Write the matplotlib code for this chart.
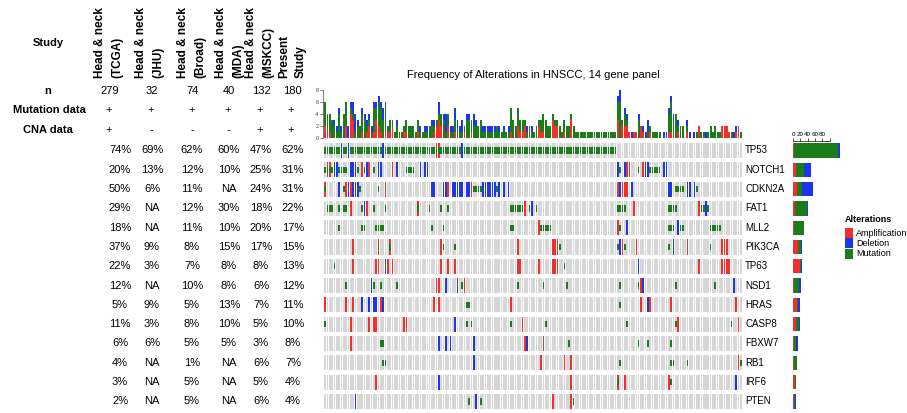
import matplotlib
matplotlib.use("Agg")
import numpy as np
import matplotlib.pyplot as plt
from matplotlib.patches import Rectangle

plt.rcParams['font.family'] = ['Liberation Sans', 'DejaVu Sans']

genes = ["TP53", "NOTCH1", "CDKN2A", "FAT1", "MLL2", "PIK3CA", "TP63",
         "NSD1", "HRAS", "CASP8", "FBXW7", "RB1", "IRF6", "PTEN"]
n_samples = 180

study_names = ["Head & neck\n(TCGA)", "Head & neck\n(JHU)", "Head & neck\n(Broad)",
               "Head & neck\n(MDA)", "Head & neck\n(MSKCC)", "Present\nStudy"]
study_n = ["279", "32", "74", "40", "132", "180"]
mutation_data = ["+", "+", "+", "+", "+", "+"]
cna_data = ["+", "-", "-", "-", "+", "+"]

freq_tcga = ["74%", "20%", "50%", "29%", "18%", "37%", "22%", "12%", "5%", "11%", "6%", "4%", "3%", "2%"]
freq_jhu = ["69%", "13%", "6%", "NA", "NA", "9%", "3%", "NA", "9%", "3%", "6%", "NA", "NA", "NA"]
freq_broad = ["62%", "12%", "11%", "12%", "11%", "8%", "7%", "10%", "5%", "8%", "5%", "1%", "5%", "5%"]
freq_mda = ["60%", "10%", "NA", "30%", "10%", "15%", "8%", "8%", "13%", "10%", "5%", "NA", "NA", "NA"]
freq_mskcc = ["47%", "25%", "24%", "18%", "20%", "17%", "8%", "6%", "7%", "5%", "3%", "6%", "5%", "6%"]
freq_present = ["62%", "31%", "31%", "22%", "17%", "15%", "13%", "12%", "11%", "10%", "8%", "7%", "4%", "4%"]

# altered samples per gene, (a, b) = run of samples a..b
amp_samples = {
    "TP53": [48, 49],
    "NOTCH1": [1, 2, 16, 19, 29, 130, 131, 137],
    "CDKN2A": [0, 9, 11, 26, 53, 63, 126, 128, 129, 130],
    "FAT1": [11, 18, 40, 86, 133, 161],
    "MLL2": [92, 126],
    "PIK3CA": [12, 23, 28, 50, 83, 98, 99, 100, 128, 134, 156, 171, 172, 173],
    "TP63": [12, 22, 23, 27, 29, 50, 53, 56, 83, 84, 92, 98, 99, 100, 161, 171, 172, 173, 174],
    "NSD1": [48, 49, 60, 136],
    "HRAS": [0, 9, 12, 24, 47, 49, 80, 136, 140, 149, 177],
    "CASP8": [11, 19, 21, 22, 34, 35, 85, 152, 178],
    "FBXW7": [11, 86, 94],
    "RB1": [93, 103, 106, 178],
    "IRF6": [22, 106, 126, 129, 148],
    "PTEN": [98, 106],
}
del_samples = {
    "TP53": [7, 10, 25, 59],
    "NOTCH1": [4, 5, 11, 12, 13, 18, 23, 24, 31, 41, 43, 44, 126, 129, 138, 139, 146, 147],
    "CDKN2A": [6, 10, 12, 13, 14, 46, 47, 51, 52, 55, 56, 57, 58, 59, 61, 62, (68, 73),
               75, 77, 79, 127, 132, 148, 149, 156, 157, 159],
    "FAT1": [17, 89, 164],
    "MLL2": [130, 152],
    "PIK3CA": [127, 150],
    "TP63": [26, 135],
    "NSD1": [20, 52, 57, 137, 176],
    "HRAS": [16, 19, 21, 22, 25, 139],
    "CASP8": [56],
    "FBXW7": [49, 52, 54, 64, 87],
    "RB1": [64],
    "IRF6": [49, 177],
    "PTEN": [13, 65],
}
mut_samples = {
    "TP53": [(0, 6), (8, 9), (11, 24), (26, 58), (60, 125)],
    "NOTCH1": [0, 1, 2, 3, 6, 7, 8, 9, 14, 17, 21, 35, 36, 37, 38, 127, 135, (140, 144)],
    "CDKN2A": [0, 8, 15, 23, 64, 65, 66, 67, 74, 151, 152, 153, 154, 160],
    "FAT1": [1, 2, 3, 6, 8, 9, 16, 21, 26, 40, 45, 50, 53, (80, 85), 88, 91,
             (126, 129), (148, 151), 162, 163, 165],
    "MLL2": [6, 16, 17, 22, 23, 24, 25, 46, 51, 80, 81, (93, 97), 127, 148, 149, 150,
             153, 154, (166, 170)],
    "PIK3CA": [23, 28, 51, 56, 101, 126, 129, 148, 166],
    "TP63": [4, 26, 103],
    "NSD1": [9, 21, 24, 31, 59, 83, 94, 104, 127, 135, 151, 168],
    "HRAS": [61, 62, 127],
    "CASP8": [0, 61, 63, 80, 95, 130, 151, 175],
    "FBXW7": [24, 25, 105, 135, 139, 149],
    "RB1": [25, 26, 127, 149, 150, 156, 179],
    "IRF6": [126, 149],
    "PTEN": [62, 67, 107],
}

RED = "#f0302a"
BLUE = "#1c35f0"
GREEN = "#1a7d1a"
GREY = "#d6d6d6"


def to_matrix(events):
    m = np.zeros((len(genes), n_samples), dtype=bool)
    for g, items in events.items():
        for it in items:
            if isinstance(it, tuple):
                m[genes.index(g), it[0]:it[1] + 1] = True
            else:
                m[genes.index(g), it] = True
    return m


amp = to_matrix(amp_samples)
dele = to_matrix(del_samples)
mut = to_matrix(mut_samples)

W, H = 907, 413
fig = plt.figure(figsize=(W / 100, H / 100), dpi=100)


def fx(x):
    return x / W


def fy(y):
    return 1 - y / H


pitch = 19.3
row0 = 150.5
grid_top = row0 - pitch / 2
grid_bot = row0 + 13 * pitch + pitch / 2
cell_h = 0.78
xs = np.arange(n_samples) + 0.5

# oncoprint grid
ax = fig.add_axes([fx(324), fy(grid_bot), (742 - 324) / W, (grid_bot - grid_top) / H])
for k in range(len(genes)):
    ax.bar(xs, cell_h, bottom=k - cell_h / 2, width=0.72, color=GREY, linewidth=0)
    a = amp[k]
    d = dele[k]
    m = mut[k]
    ax.bar(xs[a], cell_h, bottom=k - cell_h / 2, width=0.72, color=RED, linewidth=0)
    ax.bar(xs[d], cell_h, bottom=k - cell_h / 2, width=0.72, color=BLUE, linewidth=0)
    ax.bar(xs[m], cell_h * 0.42, bottom=k - cell_h * 0.21, width=0.72, color=GREEN, linewidth=0)
ax.set_xlim(0, n_samples)
ax.set_ylim(len(genes) - 0.5, -0.5)
ax.axis("off")

# gene names on the right
for k, g in enumerate(genes):
    fig.text(fx(745), fy(row0 + k * pitch), g, fontsize=7, va="center", ha="left")

# per-sample alteration counts
axt = fig.add_axes([fx(324), fy(138), (742 - 324) / W, 48 / H])
n_amp = amp.sum(axis=0)
n_mut = mut.sum(axis=0)
n_del = dele.sum(axis=0)
axt.bar(xs, n_amp, width=0.82, color=RED, linewidth=0)
axt.bar(xs, n_mut, bottom=n_amp, width=0.82, color=GREEN, linewidth=0)
axt.bar(xs, n_del, bottom=n_amp + n_mut, width=0.82, color=BLUE, linewidth=0)
axt.set_xlim(0, n_samples)
axt.set_ylim(0, 8)
axt.set_yticks([0, 2, 4, 6, 8])
axt.tick_params(axis="y", labelsize=4, length=2, width=0.5, pad=1, colors="#444444")
axt.set_xticks([])
for s in ["top", "right", "bottom"]:
    axt.spines[s].set_visible(False)
axt.spines["left"].set_linewidth(0.5)
axt.spines["left"].set_color("#444444")
axt.spines["left"].set_position(("outward", 1))

fig.text(fx(533), fy(75), "Frequency of Alterations in HNSCC, 14 gene panel",
         fontsize=8, ha="center", va="center")

# per-gene totals on the right
axr = fig.add_axes([fx(793), fy(grid_bot), 51.2 / W, (grid_bot - grid_top) / H])
ys = np.arange(len(genes))
g_amp = amp.sum(axis=1)
g_mut = mut.sum(axis=1)
g_del = dele.sum(axis=1)
axr.barh(ys, g_amp, height=0.74, color=RED, linewidth=0)
axr.barh(ys, g_mut, left=g_amp, height=0.74, color=GREEN, linewidth=0)
axr.barh(ys, g_del, left=g_amp + g_mut, height=0.74, color=BLUE, linewidth=0)
axr.set_xlim(0, 140)
axr.set_ylim(len(genes) - 0.5, -0.5)
axr.set_yticks([])
axr.xaxis.tick_top()
axr.set_xticks([0, 20, 40, 60, 80, 100])
axr.set_xticklabels(["0", "20", "40", "60", "80", ""])
axr.tick_params(axis="x", labelsize=4.5, length=2, width=0.5, pad=1)
for s in ["left", "right", "bottom"]:
    axr.spines[s].set_visible(False)
axr.spines["top"].set_bounds(0, 100)
axr.spines["top"].set_linewidth(0.5)

# legend
fig.text(fx(845), fy(219), "Alterations", fontsize=6.5, fontweight="bold", va="center")
for j, (lab, col) in enumerate([("Amplification", RED), ("Deletion", BLUE), ("Mutation", GREEN)]):
    yc = 233 + j * 10.5
    fig.add_artist(Rectangle((fx(845), fy(yc + 5)), 8 / W, 10 / H,
                             transform=fig.transFigure, color=col, linewidth=0))
    fig.text(fx(856), fy(yc), lab, fontsize=6.5, va="center")

# study table on the left
fig.text(fx(48), fy(43), "Study", fontsize=8, fontweight="bold", ha="center", va="center")
fig.text(fx(48), fy(91), "n", fontsize=8, fontweight="bold", ha="center", va="center")
fig.text(fx(49), fy(110), "Mutation data", fontsize=8, fontweight="bold", ha="center", va="center")
fig.text(fx(48), fy(130), "CNA data", fontsize=8, fontweight="bold", ha="center", va="center")

head_x = [109, 150, 192, 230, 260, 293]
for cx, name in zip(head_x, study_names):
    lines = name.split("\n")
    for li, line in enumerate(lines):
        fig.text(fx(cx - 9 + li * 17), fy(78), line, fontsize=8.5, fontweight="bold",
                 rotation=90, ha="center", va="bottom")

val_x = [110, 152, 193, 229, 261, 292]
for cx, nv, mv, cv in zip(val_x, study_n, mutation_data, cna_data):
    fig.text(fx(cx), fy(91), nv, fontsize=8, ha="center", va="center")
    fig.text(fx(cx - 1), fy(110), mv, fontsize=8, ha="center", va="center")
    fig.text(fx(cx - 1), fy(130), cv, fontsize=8, ha="center", va="center")

pct_x = [120, 152, 192, 229, 261, 293]
for cx, col in zip(pct_x, [freq_tcga, freq_jhu, freq_broad, freq_mda, freq_mskcc, freq_present]):
    for k, v in enumerate(col):
        fig.text(fx(cx), fy(row0 + k * pitch), v, fontsize=8, ha="center", va="center")

fig.savefig("out.png", dpi=100)
